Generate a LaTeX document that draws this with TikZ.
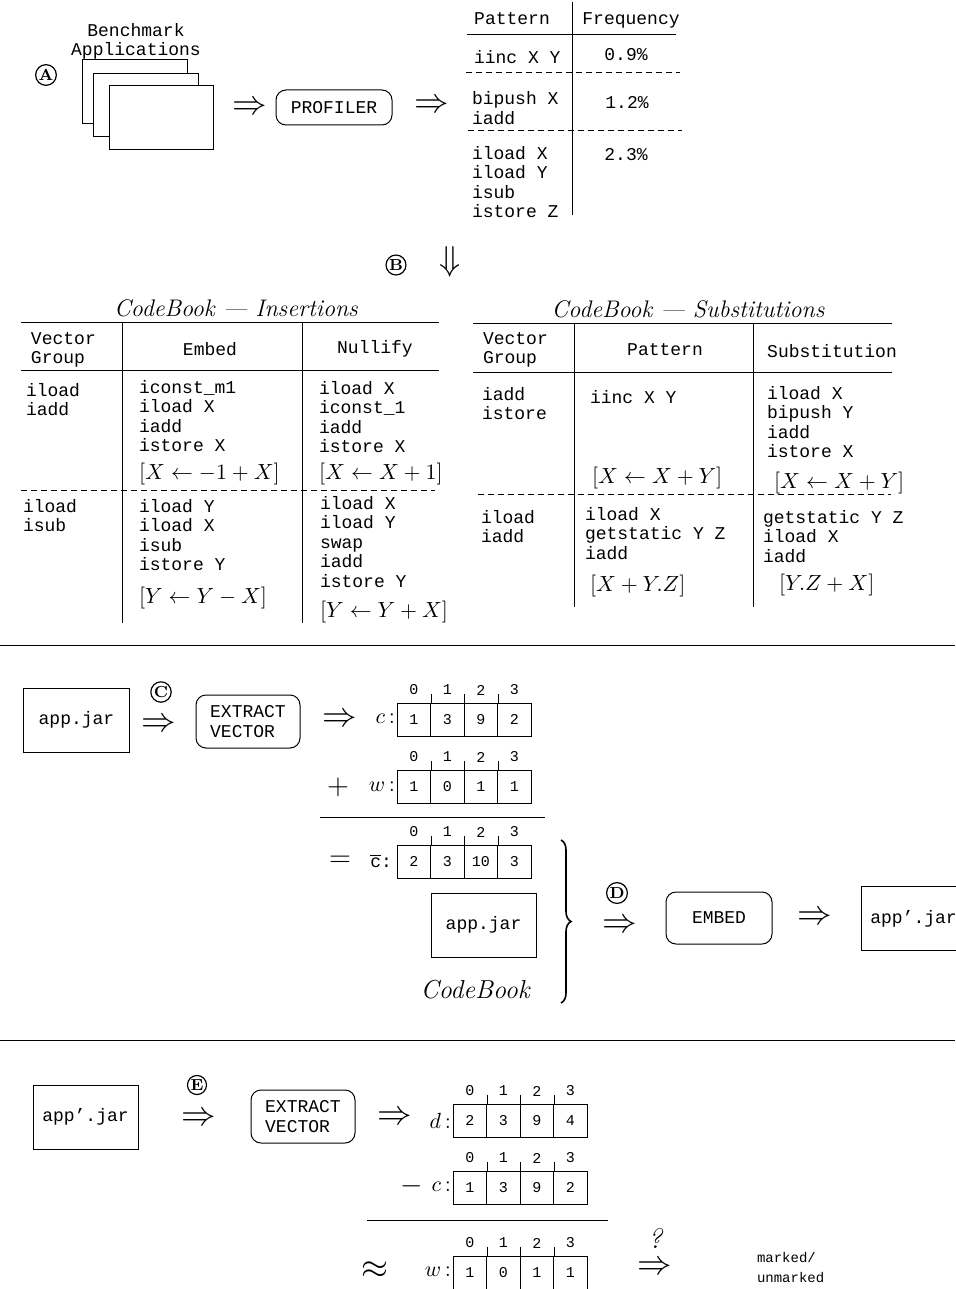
\documentclass[tikz,border=0pt]{standalone}
\usepackage{fontspec}
\setmonofont{Liberation Mono}
\usetikzlibrary{decorations.pathreplacing}

\tikzset{
  bytecode/.style={font=\ttfamily\fontsize{9}{9.8}\selectfont, inner sep=0pt, outer sep=0pt, align=left},
  formula/.style={font=\fontsize{11.3}{13}\selectfont, inner sep=0pt, outer sep=0pt},
  booktitle/.style={font=\itshape\fontsize{12}{14}\selectfont, inner sep=0pt, outer sep=0pt},
  implies/.style={font=\fontsize{17}{17}\selectfont, inner sep=0pt},
  stepmark/.style={circle, draw, line width=0.6pt, inner sep=0.4pt, minimum size=9pt, font=\bfseries\fontsize{8}{8}\selectfont},
  procbox/.style={draw, rounded corners=5pt, line width=0.5pt, bytecode, align=left},
  jarbox/.style={draw, line width=0.5pt, bytecode, minimum width=53pt, minimum height=32pt},
  cell/.style={draw, line width=0.5pt, minimum width=16.75pt, minimum height=16.5pt, inner sep=0pt, font=\ttfamily\fontsize{7.5}{7.5}\selectfont},
  idx/.style={inner sep=0pt, font=\ttfamily\fontsize{7.5}{7.5}\selectfont},
  tabline/.style={line width=0.5pt},
  rowsep/.style={line width=0.5pt, dash pattern=on 3pt off 2pt},
}

% one vector: name, left x, top y, values
\newcommand{\vecrow}[4]{%
  \foreach \val [count=\k from 0] in {#4}
    \node[cell] (#1-\k) at ({#2+16.75+33.5*\k},{#3+16.5}) {\val};
  \foreach \k in {0,...,3}
    \node[idx] (#1-i\k) at ({#2+16.75+33.5*\k},{#3-13}) {\k};
  \foreach \k in {0,1,2}
    \draw[tabline] (#1-\k.north east) -- ++(0,-9);
}

\begin{document}
\begin{tikzpicture}[x=0.5pt,y=-0.5pt]
\path[use as bounding box,fill=white] (0,0) rectangle (955,1289);

%% A: profiling (multi-line nodes sit on the baseline of their last line)
\node[stepmark] (markA) at (46,75) {A};
\node[bytecode, align=center, anchor=base] (bench) at (136,56) {Benchmark\\Applications};
\path[draw=black,fill=white,line width=0.5pt] (82,60) rectangle (187,124);
\path[draw=black,fill=white,line width=0.5pt] (93,74) rectangle (198,137);
\path[draw=black,fill=white,line width=0.5pt] (109,86) rectangle (213,150);
\node[implies] (toprof) at (250,108) {$\Rightarrow$};
\node[procbox, minimum width=58pt, minimum height=17.5pt] (profiler) at (334,107.5) {PROFILER};
\node[implies] (fromprof) at (432,106) {$\Rightarrow$};

\draw[tabline] (572,2) -- (572,215);
\draw[tabline] (467,35) -- (676,35);
\draw[rowsep] (466,73) -- (680,73);
\draw[rowsep] (468,131) -- (682,131);
\node[bytecode, anchor=base] (pathead) at (512,25) {Pattern};
\node[bytecode, anchor=base] (freqhead) at (631,25) {Frequency};
\node[bytecode, anchor=base west] (pat1) at (474,64) {iinc X Y};
\node[bytecode, anchor=base] (freq1) at (626,61) {0.9\%};
\node[bytecode, anchor=base west] (pat2) at (472,124.6) {bipush X\\iadd};
\node[bytecode, anchor=base] (freq2) at (627,109) {1.2\%};
\node[bytecode, anchor=base west] (pat3) at (472,217.8) {iload X\\iload Y\\isub\\istore Z};
\node[bytecode, anchor=base] (freq3) at (626,161) {2.3\%};

%% B: codebook
\node[stepmark] (markB) at (396,265) {B};
\node[implies] (tobook) at (450,262) {$\Downarrow$};

% insertions
\node[booktitle, anchor=base] (institle) at (236,316) {CodeBook --- Insertions};
\draw[tabline] (21,322) -- (439,322);
\draw[tabline] (21,370) -- (439,370);
\draw[tabline] (122,322) -- (122,623);
\draw[tabline] (302,322) -- (302,623);
\draw[rowsep] (21,490) -- (435,490);
\node[bytecode, anchor=base west] (inshead1) at (31,363.6) {Vector\\Group};
\node[bytecode, anchor=base] (inshead2) at (210,355) {Embed};
\node[bytecode, anchor=base] (inshead3) at (375,353) {Nullify};
\node[bytecode, anchor=base west] (insg1) at (26,415.6) {iload\\iadd};
\node[bytecode, anchor=base west] (inse1) at (139,451.8) {iconst\_m1\\iload X\\iadd\\istore X};
\node[formula, anchor=base west] (insef1) at (139,479) {$[X \leftarrow -1+X]$};
\node[bytecode, anchor=base west] (insn1) at (319,452.8) {iload X\\iconst\_1\\iadd\\istore X};
\node[formula, anchor=base west] (insnf1) at (319,479) {$[X \leftarrow X+1]$};
\node[bytecode, anchor=base west] (insg2) at (23,531.6) {iload\\isub};
\node[bytecode, anchor=base west] (inse2) at (139,570.8) {iload Y\\iload X\\isub\\istore Y};
\node[formula, anchor=base west] (insef2) at (139,603) {$[Y \leftarrow Y-X]$};
\node[bytecode, anchor=base west] (insn2) at (320,587.4) {iload X\\iload Y\\swap\\iadd\\istore Y};
\node[formula, anchor=base west] (insnf2) at (320,617) {$[Y \leftarrow Y+X]$};

% substitutions
\node[booktitle, anchor=base] (subtitle) at (688,317) {CodeBook --- Substitutions};
\draw[tabline] (473,323) -- (892,323);
\draw[tabline] (473,372) -- (892,372);
\draw[tabline] (574,323) -- (574,607);
\draw[tabline] (753,323) -- (753,607);
\draw[rowsep] (478,494) -- (891,494);
\node[bytecode, anchor=base west] (subhead1) at (483,363.6) {Vector\\Group};
\node[bytecode, anchor=base] (subhead2) at (665,355) {Pattern};
\node[bytecode, anchor=base] (subhead3) at (832,357) {Substitution};
\node[bytecode, anchor=base west] (subg1) at (482,419.6) {iadd\\istore};
\node[bytecode, anchor=base west] (subp1) at (590,403) {iinc X Y};
\node[formula, anchor=base west] (subpf1) at (592,483) {$[X \leftarrow X+Y]$};
\node[bytecode, anchor=base west] (subs1) at (767,457.8) {iload X\\bipush Y\\iadd\\istore X};
\node[formula, anchor=base west] (subsf1) at (774,488) {$[X \leftarrow X+Y]$};
\node[bytecode, anchor=base west] (subg2) at (481,542.6) {iload\\iadd};
\node[bytecode, anchor=base west] (subp2) at (585,559.2) {iload X\\getstatic Y Z\\iadd};
\node[formula, anchor=base west] (subpf2) at (590,591) {$[X+Y.Z]$};
\node[bytecode, anchor=base west] (subs2) at (763,562.2) {getstatic Y Z\\iload X\\iadd};
\node[formula, anchor=base west] (subsf2) at (779,590) {$[Y.Z+X]$};

\draw[tabline] (0,645) -- (955,645);

%% C, D: embedding
\node[jarbox] (jar) at (76.5,720) {app.jar};
\node[stepmark] (markC) at (161,692) {C};
\node[implies] (toext) at (159,725) {$\Rightarrow$};
\node[procbox, minimum width=52pt, minimum height=26.5pt] (extract) at (248,721.5) {EXTRACT\\VECTOR};
\node[implies] (fromext) at (340,720) {$\Rightarrow$};
\node[formula, anchor=east] (clab) at (395,719) {$c$\,:};
\vecrow{cvec}{397}{703}{1,3,9,2}
\node[formula, font=\fontsize{14}{14}\selectfont] (plus) at (338,787) {$+$};
\node[formula, anchor=east] (wlab) at (395,787) {$w$\,:};
\vecrow{wvec}{397}{770}{1,0,1,1}
\draw[tabline] (320,817) -- (545,817);
\node[formula, font=\fontsize{14}{14}\selectfont] (equal) at (340,861) {$=$};
\node[formula, anchor=east, font=\fontsize{9}{9}\selectfont] (cbarlab) at (392,861) {$\overline{\mbox{\ttfamily c}}$\ttfamily :};
\vecrow{cbar}{397}{845}{2,3,10,3}
\node[jarbox, minimum width=52.5pt] (jarcb) at (483.5,925) {app.jar};
\node[font=\itshape\fontsize{13}{15}\selectfont, inner sep=0pt] (cbook) at (475,990) {CodeBook};
\draw[decorate, decoration={brace, amplitude=5pt}, line width=0.8pt] (561,840) -- (561,1003);
\node[stepmark] (markD) at (617,893) {D};
\node[implies] (toembed) at (620,926) {$\Rightarrow$};
\node[procbox, minimum width=53pt, minimum height=26pt] (embed) at (719,918) {EMBED};
\node[implies] (fromembed) at (815,918) {$\Rightarrow$};
\node[jarbox, minimum width=52.5pt, anchor=west] (markedjar) at (861,918.5) {app’.jar};

\draw[tabline] (0,1040) -- (955,1040);

%% E: detection
\node[jarbox, minimum width=52.5pt] (jarE) at (85.5,1117) {app’.jar};
\node[stepmark] (markE) at (197,1085) {E};
\node[implies] (toextE) at (199,1119) {$\Rightarrow$};
\node[procbox, minimum width=52pt, minimum height=26.5pt] (extractE) at (303,1116.5) {EXTRACT\\VECTOR};
\node[implies] (fromextE) at (395,1118) {$\Rightarrow$};
\node[formula, anchor=east] (dlab) at (451,1121) {$d$\,:};
\vecrow{dvec}{453}{1104}{2,3,9,4}
\node[formula, font=\fontsize{14}{14}\selectfont] (minus) at (412,1186) {$-$};
\node[formula, anchor=east] (clabE) at (451,1187) {$c$\,:};
\vecrow{cvecE}{453}{1171}{1,3,9,2}
\draw[tabline] (367,1220) -- (608,1220);
\node[formula, font=\fontsize{17}{17}\selectfont] (approx) at (375,1270) {$\approx$};
\node[formula, anchor=east] (wlabE) at (451,1272) {$w$\,:};
\vecrow{wvecE}{453}{1256}{1,0,1,1}
\node[font=\itshape\fontsize{14}{14}\selectfont, inner sep=0pt] (query) at (655,1238) {?};
\node[implies] (todecide) at (655,1268) {$\Rightarrow$};
\node[bytecode, font=\ttfamily\fontsize{7}{10}\selectfont, anchor=base west] (verdict) at (757,1282) {marked/\\unmarked};
\end{tikzpicture}
\end{document}
